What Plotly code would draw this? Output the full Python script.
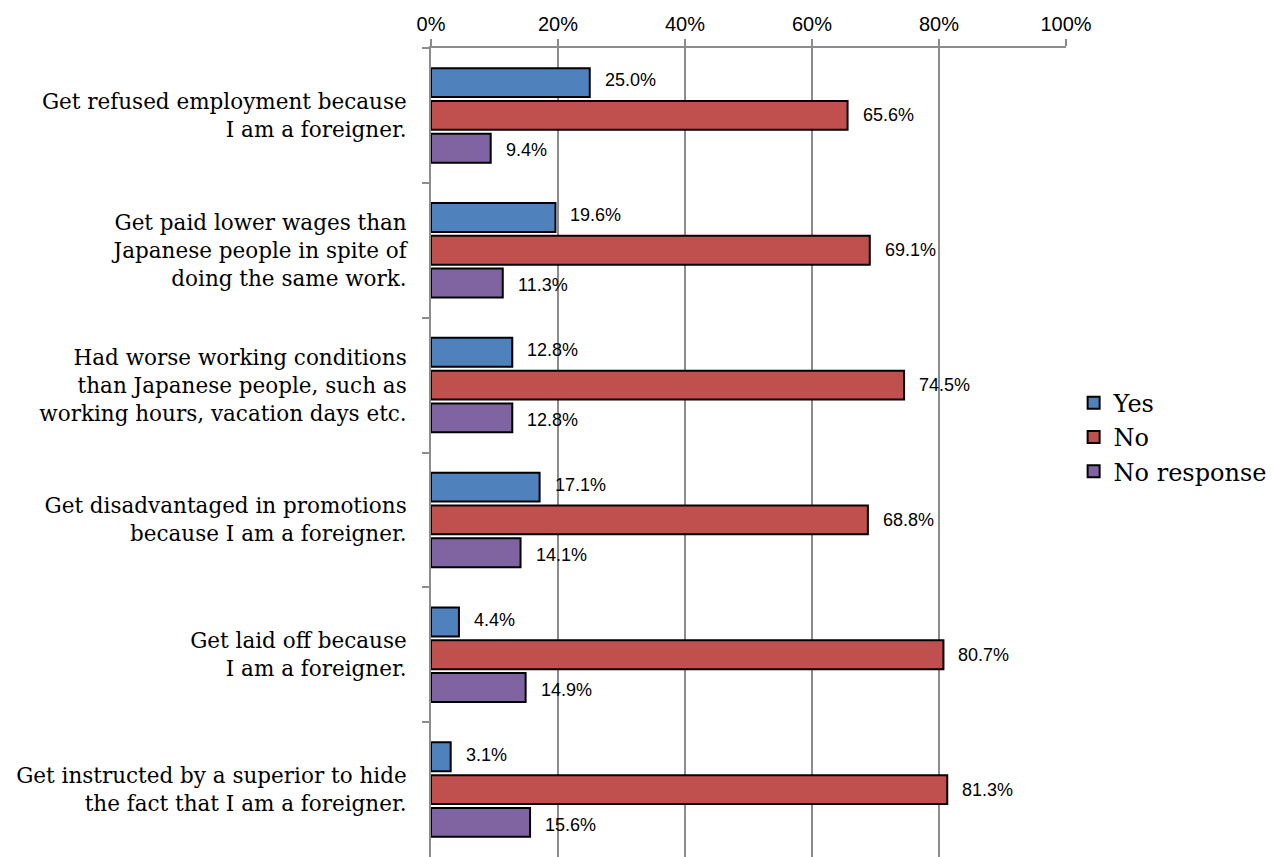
import plotly.graph_objects as go

categories = [
    "Get refused employment because<br>I am a foreigner.",
    "Get paid lower wages than<br>Japanese people in spite of<br>doing the same work.",
    "Had worse working conditions<br>than Japanese people, such as<br>working hours, vacation days etc.",
    "Get disadvantaged in promotions<br>because I am a foreigner.",
    "Get laid off because<br>I am a foreigner.",
    "Get instructed by a superior to hide<br>the fact that I am a foreigner.",
]
yes_pct = [25.0, 19.6, 12.8, 17.1, 4.4, 3.1]
no_pct = [65.6, 69.1, 74.5, 68.8, 80.7, 81.3]
no_response_pct = [9.4, 11.3, 12.8, 14.1, 14.9, 15.6]
x_ticks = [0, 20, 40, 60, 80, 100]
x_tick_labels = ["0%", "20%", "40%", "60%", "80%", "100%"]

series = [
    ("Yes", yes_pct, "#4F81BD"),
    ("No", no_pct, "#C0504D"),
    ("No response", no_response_pct, "#8064A2"),
]

SERIF = "DejaVu Serif"
SANS = "Liberation Sans"

fig = go.Figure()
for name, vals, color in series:
    fig.add_trace(go.Bar(
        y=categories, x=vals, name=name, orientation="h",
        marker=dict(color=color, line=dict(color="black", width=2)),
    ))

# value labels to the right of each bar, shifted to that bar's slot in the group
slot_shift = [35, 0, -35]
annotations = []
for (name, vals, color), ys in zip(series, slot_shift):
    for cat, v in zip(categories, vals):
        annotations.append(dict(
            x=v, y=cat, xref="x", yref="y", text=f"{v:.1f}%",
            showarrow=False, xanchor="left", yanchor="middle",
            xshift=13, yshift=ys,
            font=dict(family=SANS, size=18, color="#000"),
        ))

fig.update_layout(
    width=1274, height=857,
    margin=dict(l=431, r=208, t=48, b=0, pad=0),
    paper_bgcolor="white", plot_bgcolor="white",
    barmode="group", bargap=0.27, bargroupgap=0.12,
    annotations=annotations,
    legend=dict(
        x=1.012, y=0.519, xanchor="left", yanchor="middle",
        font=dict(family=SERIF, size=24, color="#000"),
        itemwidth=30, tracegroupgap=0, bgcolor="rgba(0,0,0,0)",
    ),
    xaxis=dict(
        side="top", range=[0, 100], tickvals=x_ticks, ticktext=x_tick_labels,
        showgrid=True, gridcolor="#8c8c8c", gridwidth=2,
        showline=True, linecolor="#8c8c8c", linewidth=2,
        ticks="outside", ticklen=7, tickcolor="#8c8c8c", tickwidth=2,
        tickfont=dict(family=SANS, size=20, color="#000"),
        zeroline=False, fixedrange=True,
    ),
    yaxis=dict(
        autorange="reversed", showline=True, linecolor="#8c8c8c", linewidth=2,
        ticks="outside", tickson="boundaries", ticklen=7,
        tickcolor="#8c8c8c", tickwidth=2,
        tickfont=dict(family=SERIF, size=21.5, color="#000"),
        ticklabelstandoff=18, showgrid=False, fixedrange=True,
    ),
)

fig.write_html("out.html")
